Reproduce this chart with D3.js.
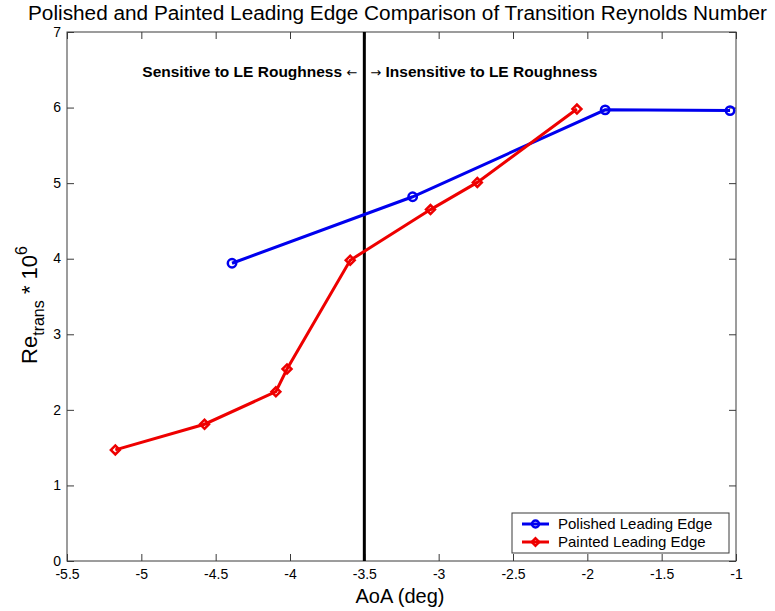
<!DOCTYPE html>
<html>
<head>
<meta charset="utf-8">
<script src="https://cdn.jsdelivr.net/npm/d3@7"></script>
<style>
  body { margin: 0; background: #fff; }
  svg { display: block; font-family: "Liberation Sans", Arial, sans-serif; }
</style>
</head>
<body>
<div id="chart"></div>
<script>
// data
var polishedAoA = [-4.39, -3.175, -1.88, -1.04];
var polishedRe  = [3.94, 4.82, 5.97, 5.96];
var paintedAoA  = [-5.175, -4.575, -4.095, -4.02, -3.595, -3.055, -2.74, -2.07];
var paintedRe   = [1.47, 1.81, 2.24, 2.54, 3.98, 4.65, 5.01, 5.98];
var xTicks = [-5.5, -5, -4.5, -4, -3.5, -3, -2.5, -2, -1.5, -1];
var yTicks = [0, 1, 2, 3, 4, 5, 6, 7];
var dividerAoA = -3.5;

var width = 775, height = 611;
var plotLeft = 67, plotRight = 736, plotTop = 32, plotBottom = 561;

var svg = d3.select("#chart").append("svg")
  .attr("width", width)
  .attr("height", height);

var x = d3.scaleLinear().domain([-5.5, -1]).range([plotLeft, plotRight]);
var y = d3.scaleLinear().domain([0, 7]).range([plotBottom, plotTop]);

var axisColor = "#3a3a3a";

// box
svg.append("rect")
  .attr("x", plotLeft).attr("y", plotTop)
  .attr("width", plotRight - plotLeft).attr("height", plotBottom - plotTop)
  .attr("fill", "none").attr("stroke", axisColor).attr("stroke-width", 1);

// axes with inward ticks (MATLAB style)
function styleAxis(g) {
  g.select(".domain").remove();
  g.selectAll(".tick line").attr("stroke", axisColor);
  g.selectAll(".tick text").attr("fill", "#000").style("font-size", "14px");
}

svg.append("g")
  .attr("transform", "translate(0," + plotBottom + ")")
  .call(d3.axisBottom(x).tickValues(xTicks).tickSizeInner(-7).tickSizeOuter(0).tickPadding(5)
    .tickFormat(function(d) { return d; }))
  .call(styleAxis)
  .selectAll(".tick text").attr("dy", "0.95em");

svg.append("g")
  .attr("transform", "translate(0," + plotTop + ")")
  .call(d3.axisTop(x).tickValues(xTicks).tickSizeInner(-7).tickSizeOuter(0).tickFormat(""))
  .call(styleAxis);

svg.append("g")
  .attr("transform", "translate(" + plotLeft + ",0)")
  .call(d3.axisLeft(y).tickValues(yTicks).tickSizeInner(-7).tickSizeOuter(0).tickPadding(6)
    .tickFormat(function(d) { return d; }))
  .call(styleAxis)
  .selectAll(".tick text").attr("dy", "0.3em");

svg.append("g")
  .attr("transform", "translate(" + plotRight + ",0)")
  .call(d3.axisRight(y).tickValues(yTicks).tickSizeInner(-7).tickSizeOuter(0).tickFormat(""))
  .call(styleAxis);

// divider line
svg.append("line")
  .attr("x1", x(dividerAoA)).attr("x2", x(dividerAoA))
  .attr("y1", y(0)).attr("y2", y(7))
  .attr("stroke", "#000").attr("stroke-width", 3);

// annotation
svg.append("text")
  .attr("x", x(dividerAoA) - 7).attr("y", 77)
  .attr("text-anchor", "end")
  .style("font-size", "15.5px").style("font-weight", "bold")
  .html('Sensitive to LE Roughness <tspan style="font-weight:normal;font-size:13px;font-family:\'DejaVu Sans\'">\u2190</tspan>');

svg.append("text")
  .attr("x", x(dividerAoA) + 6).attr("y", 77)
  .attr("text-anchor", "start")
  .style("font-size", "15.5px").style("font-weight", "bold")
  .html('<tspan style="font-weight:normal;font-size:13px;font-family:\'DejaVu Sans\'">\u2192</tspan> Insensitive to LE Roughness');

// series
var line = d3.line().x(function(d) { return x(d[0]); }).y(function(d) { return y(d[1]); });

var polished = d3.zip(polishedAoA, polishedRe);
var painted = d3.zip(paintedAoA, paintedRe);

svg.append("path").datum(polished)
  .attr("d", line).attr("fill", "none").attr("stroke", "#0000ee").attr("stroke-width", 3);

svg.selectAll(".pol").data(polished).enter().append("circle")
  .attr("cx", function(d) { return x(d[0]); })
  .attr("cy", function(d) { return y(d[1]); })
  .attr("r", 4.2)
  .attr("fill", "none").attr("stroke", "#0000ee").attr("stroke-width", 2.5);

svg.append("path").datum(painted)
  .attr("d", line).attr("fill", "none").attr("stroke", "#ee0000").attr("stroke-width", 3);

// matlab-like diamond = square turned 45 deg
var diamond = d3.symbol().type(d3.symbolSquare).size(40);
svg.selectAll(".pnt").data(painted).enter().append("path")
  .attr("transform", function(d) { return "translate(" + x(d[0]) + "," + y(d[1]) + ") rotate(45)"; })
  .attr("d", diamond)
  .attr("fill", "none").attr("stroke", "#ee0000").attr("stroke-width", 2.5);

// legend
var lg = svg.append("g").attr("transform", "translate(512,513)");
lg.append("rect").attr("width", 217).attr("height", 40)
  .attr("fill", "#fff").attr("stroke", axisColor);

var legendItems = [
  { name: "Polished Leading Edge", color: "#0000ee", marker: "circle" },
  { name: "Painted Leading Edge", color: "#ee0000", marker: "diamond" }
];
legendItems.forEach(function(it, i) {
  var yy = 11 + i * 18;
  lg.append("line").attr("x1", 10).attr("x2", 37).attr("y1", yy).attr("y2", yy)
    .attr("stroke", it.color).attr("stroke-width", 3);
  if (it.marker == "circle") {
    lg.append("circle").attr("cx", 23.5).attr("cy", yy).attr("r", 3.5)
      .attr("fill", "none").attr("stroke", it.color).attr("stroke-width", 2.5);
  } else {
    lg.append("path").attr("transform", "translate(23.5," + yy + ") rotate(45)")
      .attr("d", d3.symbol().type(d3.symbolSquare).size(28))
      .attr("fill", "none").attr("stroke", it.color).attr("stroke-width", 2.5);
  }
  lg.append("text").attr("x", 46).attr("y", yy + 5)
    .style("font-size", "15px").text(it.name);
});

// title
svg.append("text")
  .attr("x", 28).attr("y", 20)
  .attr("textLength", 739).attr("lengthAdjust", "spacingAndGlyphs")
  .style("font-size", "20px")
  .text("Polished and Painted Leading Edge Comparison of Transition Reynolds Number");

// axis labels
svg.append("text")
  .attr("x", 400).attr("y", 603)
  .attr("text-anchor", "middle")
  .style("font-size", "20px")
  .text("AoA (deg)");

svg.append("text")
  .attr("transform", "translate(37,305) rotate(-90)")
  .attr("text-anchor", "middle")
  .style("font-size", "22px")
  .html('Re<tspan dy="7" style="font-size:16px">trans</tspan><tspan dy="-7"> * 10</tspan><tspan dy="-10" style="font-size:16px">6</tspan>');
</script>
</body>
</html>
